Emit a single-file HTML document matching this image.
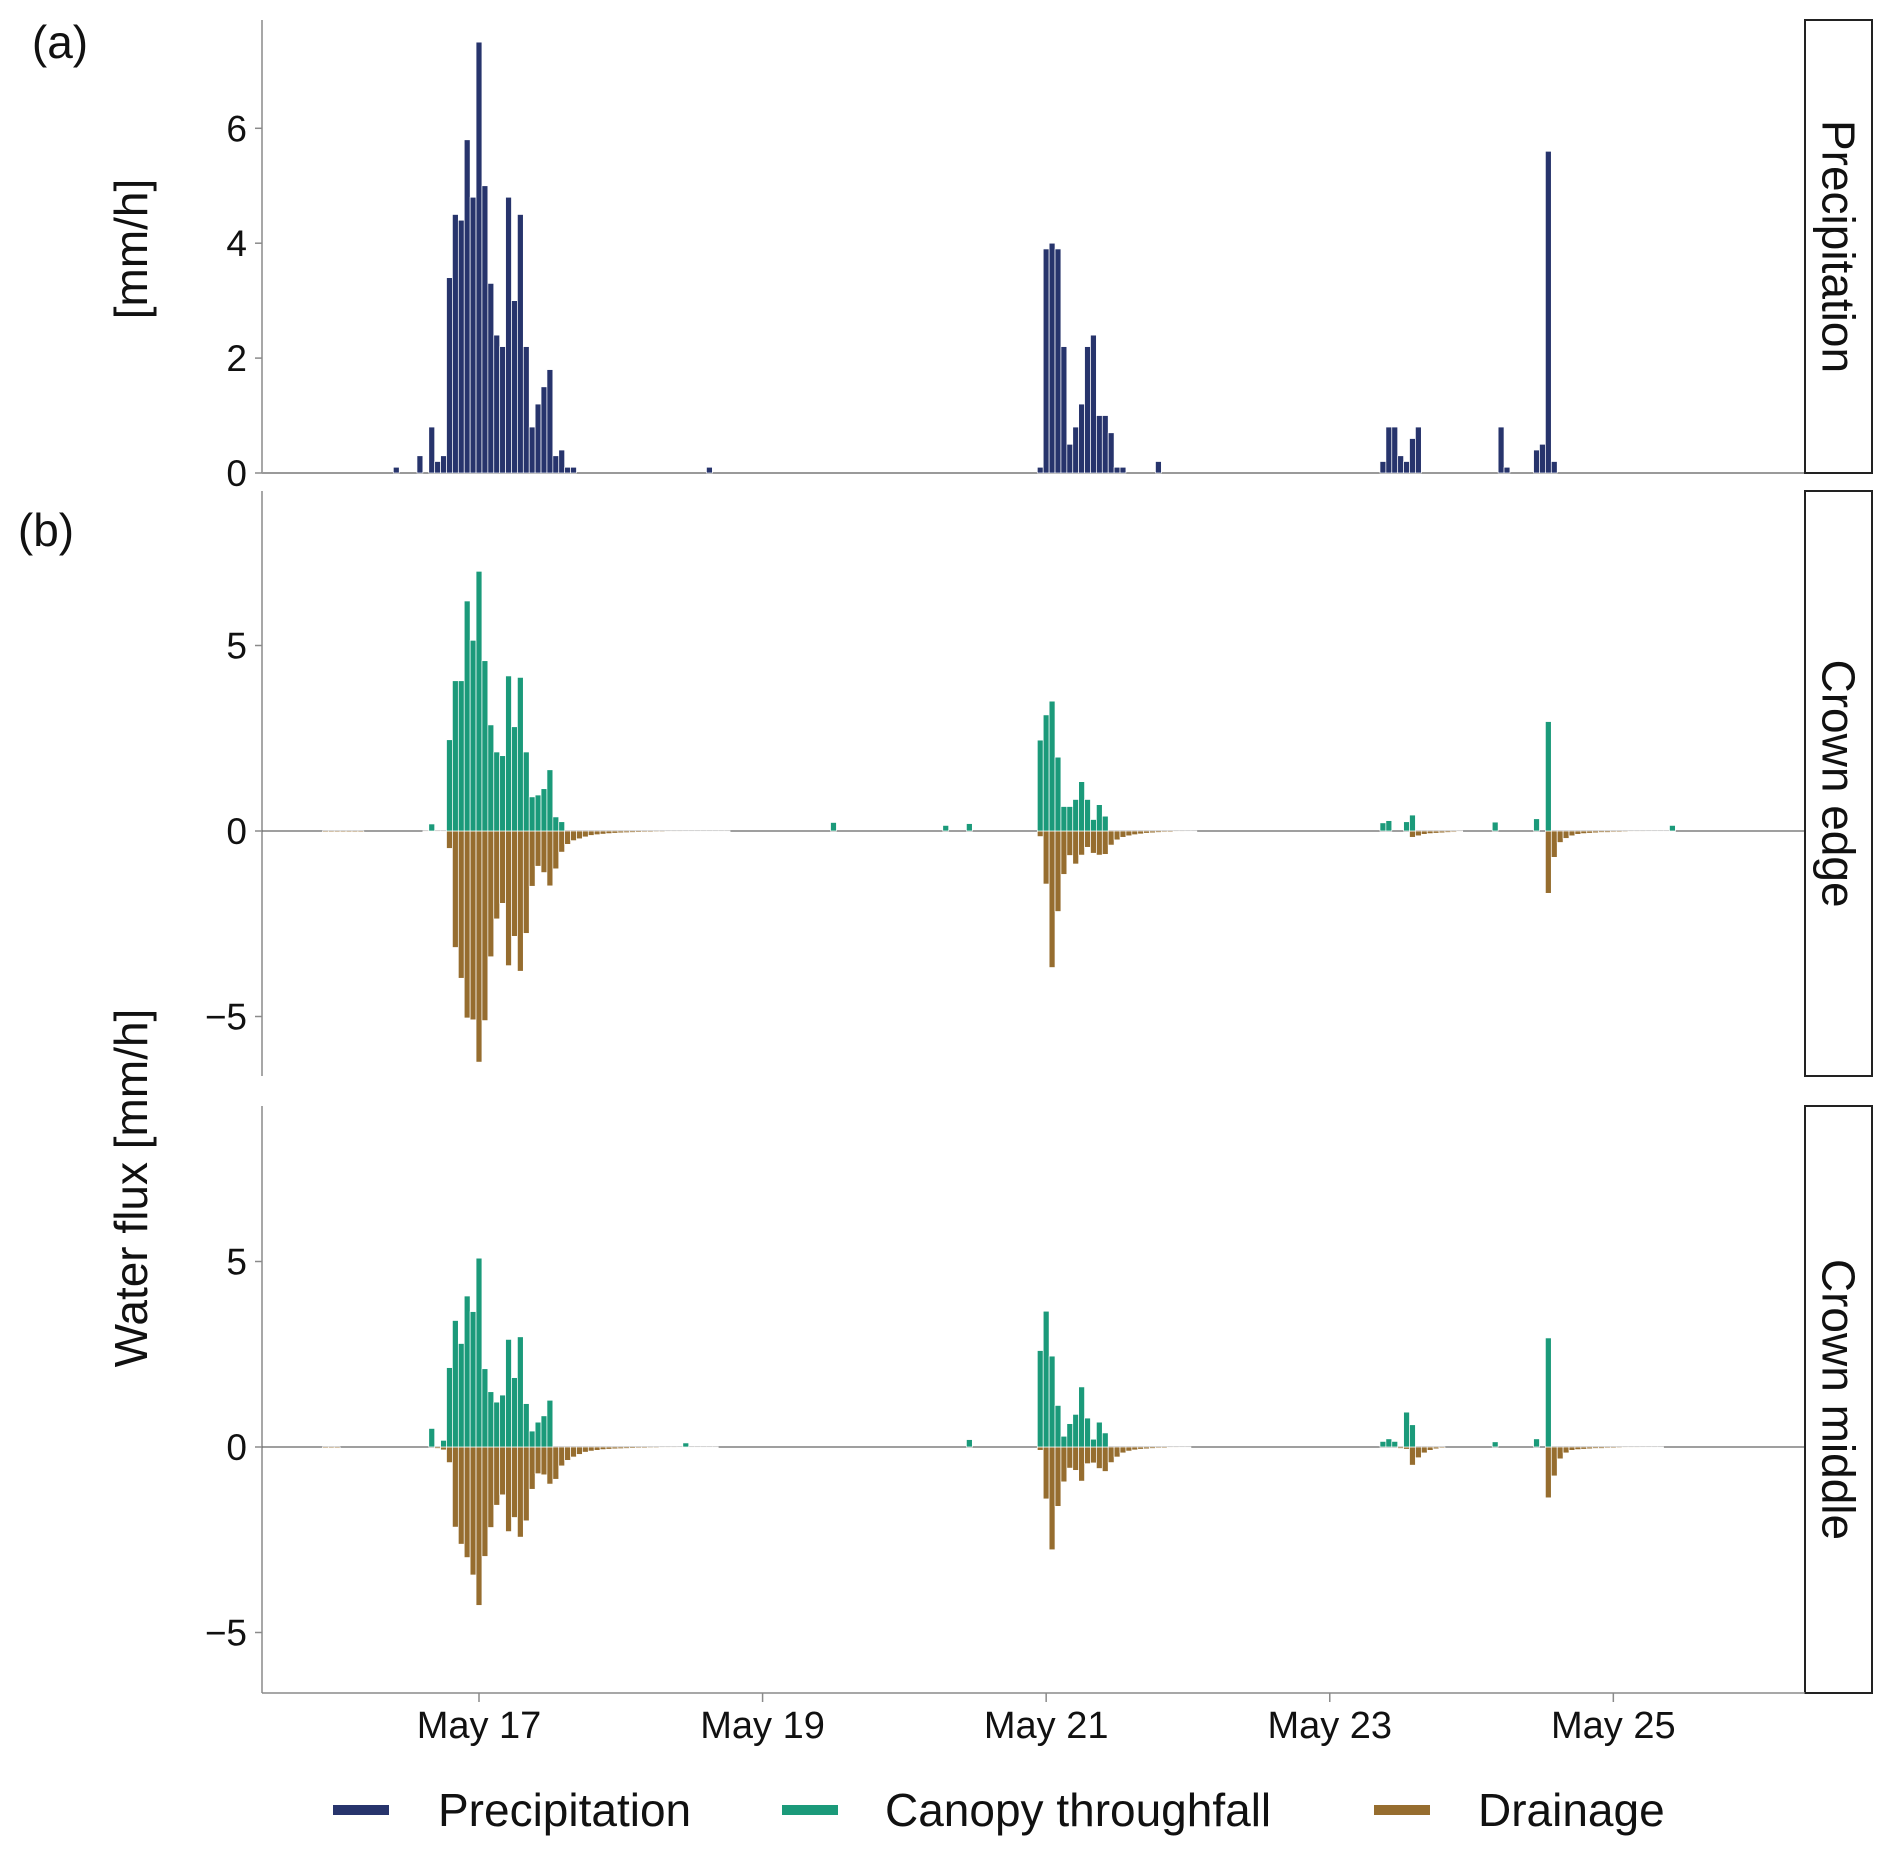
<!DOCTYPE html>
<html><head><meta charset="utf-8"><style>
html,body{margin:0;padding:0;background:#fff;}
svg{display:block;font-family:"Liberation Sans",Arial,sans-serif;}
</style></head><body>
<svg id="chart" width="1892" height="1854" viewBox="0 0 1892 1854" xmlns="http://www.w3.org/2000/svg">
<g id="static"></g>
</svg>
<script>
// ---- data (hours relative to May 17 00:00) ----
const dayTicks = ["May 17", "May 19", "May 21", "May 23", "May 25"];
const dayTickHours = [0, 48, 96, 144, 192];
const precipTickLabels = ["0", "2", "4", "6"];
const precipTickValues = [0, 2, 4, 6];
const fluxTickLabels = ["\u22125", "0", "5"];
const fluxTickValues = [-5, 0, 5];

const precipStarts = [-14, -10, -8, 39, 95, 115, 153, 173, 179];
const precipValues = [[0.1],[0.3],[0.8,0.2,0.3,3.4,4.5,4.4,5.8,4.8,7.5,5.0,3.3,2.4,2.2,4.8,3.0,4.5,2.2,0.8,1.2,1.5,1.8,0.3,0.4,0.1,0.1],[0.1],
 [0.1,3.9,4.0,3.9,2.2,0.5,0.8,1.2,2.2,2.4,1.0,1.0,0.7,0.1,0.1],[0.2],[0.2,0.8,0.8,0.3,0.2,0.6,0.8],[0.8,0.1],[0.4,0.5,5.6,0.2]];

const edgeTfStarts = [-8, -5, 60, 79, 83, 95, 153, 157, 172, 179, 181, 202];
const edgeTfValues = [[0.19],[2.46,4.05,4.05,6.2,5.14,7.0,4.59,2.86,2.13,2.03,4.18,2.81,4.14,2.13,0.92,0.97,1.14,1.65,0.38,0.25],[0.23],[0.15],[0.2],
 [2.45,3.13,3.5,1.99,0.66,0.66,0.85,1.33,0.85,0.31,0.71,0.4],[0.22,0.28],[0.25,0.43],[0.24],[0.33],[2.95],[0.15]];
const edgeDrStarts = [-26, -9, -5, 95, 158, 181];
const edgeDrValues = [[-0.03,-0.03,-0.03,-0.03,-0.03,-0.03,-0.03],[-0.02,-0.02,-0.02,-0.02],
 [-0.47,-3.14,-3.97,-5.04,-5.09,-6.23,-5.11,-3.39,-2.37,-1.95,-3.63,-2.84,-3.78,-2.76,-1.49,-0.95,-1.12,-1.48,-1.02,-0.57,
  -0.36,-0.26,-0.21,-0.16,-0.12,-0.10,-0.085,-0.07,-0.06,-0.05,-0.045,-0.04,-0.035,-0.03,-0.03,-0.025,-0.025,-0.02,-0.02,-0.02,-0.015,-0.015,-0.015,-0.01,-0.01,-0.01,-0.01,-0.01],
 [-0.15,-1.43,-3.68,-2.17,-1.17,-0.66,-0.89,-0.65,-0.44,-0.6,-0.65,-0.63,-0.38,-0.24,-0.17,-0.13,-0.1,-0.08,-0.06,-0.05,-0.04,-0.03,-0.03,-0.02,-0.02,-0.015,-0.01],
 [-0.17,-0.13,-0.09,-0.07,-0.06,-0.05,-0.04,-0.03,-0.02],
 [-1.68,-0.71,-0.31,-0.2,-0.13,-0.09,-0.07,-0.06,-0.05,-0.04,-0.04,-0.03,-0.03,-0.025,-0.02,-0.02,-0.02,-0.015,-0.015,-0.01,-0.01,-0.01]];

const midTfStarts = [-8, -6, 35, 83, 95, 153, 157, 172, 179, 181];
const midTfValues = [[0.5],[0.18,2.14,3.41,2.79,4.07,3.65,5.09,2.11,1.49,1.21,1.40,2.9,1.87,2.97,1.17,0.43,0.67,0.84,1.26],[0.11],[0.2],
 [2.6,3.66,2.45,1.12,0.29,0.63,0.88,1.62,0.78,0.21,0.67,0.38],[0.15,0.22,0.15],[0.94,0.6],[0.14],[0.22],[2.94]];
const midDrStarts = [-26, -7, 95, 156, 181];
const midDrValues = [[-0.03,-0.03,-0.03],
 [-0.04,-0.08,-0.42,-2.16,-2.62,-2.98,-3.45,-4.27,-2.95,-2.17,-1.57,-1.29,-2.28,-1.9,-2.43,-1.99,-1.14,-0.72,-0.75,-1.0,-0.87,-0.51,
  -0.36,-0.27,-0.2,-0.14,-0.11,-0.09,-0.07,-0.06,-0.05,-0.045,-0.04,-0.035,-0.03,-0.03,-0.025,-0.025,-0.02,-0.02,-0.02,-0.015,-0.015,-0.015,-0.01,-0.01,-0.01,-0.01],
 [-0.09,-1.4,-2.77,-1.6,-0.94,-0.57,-0.63,-0.92,-0.45,-0.43,-0.58,-0.66,-0.42,-0.27,-0.16,-0.11,-0.08,-0.06,-0.05,-0.04,-0.03,-0.03,-0.02,-0.02,-0.015,-0.01],
 [-0.04,-0.06,-0.49,-0.29,-0.16,-0.09,-0.05,-0.03],
 [-1.37,-0.78,-0.32,-0.16,-0.09,-0.07,-0.06,-0.05,-0.04,-0.04,-0.03,-0.03,-0.025,-0.02,-0.02,-0.02,-0.015,-0.015,-0.01,-0.01]];

// ---- layout ----
const NS = "http://www.w3.org/2000/svg";
const svg = document.getElementById("chart");
const PL = 262, PR = 1805, SX0 = 1805, SX1 = 1872;
const HOUR = 5.908, X0 = 479;
function X(h){ return X0 + h*HOUR; }
const panels = [
  {name:"precipitation", top:20, bottom:473, zero:473, unit:57.45, strip:"Precipitation", ticksV:precipTickValues, ticksL:precipTickLabels, stripTop:20},
  {name:"crown-edge", top:491, bottom:1076, zero:831, unit:37.1, strip:"Crown edge", ticksV:fluxTickValues, ticksL:fluxTickLabels, stripTop:491},
  {name:"crown-middle", top:1106, bottom:1693, zero:1447, unit:37.1, strip:"Crown middle", ticksV:fluxTickValues, ticksL:fluxTickLabels, stripTop:1106}
];
function mk(tag, attrs, parent){
  const e = document.createElementNS(NS, tag);
  for (const k in attrs) e.setAttribute(k, attrs[k]);
  (parent||svg).appendChild(e);
  return e;
}
const COL_P = "#27346c", COL_T = "#1b9a7a", COL_D = "#966d2f";

function drawBars(p, starts, vals, color, nm){
  const g = mk("g", {});
  
  
  starts.forEach((s, i) => {
    vals[i].forEach((v, j) => {
      const h = s + j;
      const y0 = p.zero, y1 = p.zero - v*p.unit;
      const r = mk("rect", {x: X(h) - HOUR/2, y: Math.min(y0,y1), width: HOUR, height: Math.max(Math.abs(y1-y0), 0.6),
        fill: color, stroke: "#fff", "stroke-width": 0.7}, g);
      
      
    });
  });
}

panels.forEach((p, idx) => {
  const ax = mk("line", {x1: PL, y1: p.top, x2: PL, y2: p.bottom, stroke: "#8a8a8a", "stroke-width": 1.5});
  
  
  p.ticksV.forEach((v, i) => {
    const y = p.zero - v*p.unit;
    const t = mk("line", {x1: PL-7, y1: y, x2: PL, y2: y, stroke: "#8a8a8a", "stroke-width": 1.5});
    
    
    const tx = mk("text", {x: PL-15, y: y+13, "text-anchor": "end", "font-size": 37, fill: "#111"});
    tx.textContent = p.ticksL[i];
    
    
  });
  const zl = mk("line", {x1: PL, y1: p.zero, x2: PR, y2: p.zero, stroke: idx===0 ? "#9a9a9a" : "#666", "stroke-width": idx===0 ? 2 : 1.3});
  
  
  const sr = mk("rect", {x: SX0, y: p.stripTop, width: SX1-SX0, height: p.bottom - p.stripTop, fill: "#fff", stroke: "#222", "stroke-width": 2});
  
  
  const cy = (p.stripTop + p.bottom)/2;
  const st = mk("text", {x: 0, y: 0, "text-anchor": "middle", "font-size": 46, fill: "#111",
    transform: "translate(" + (SX0 + (SX1-SX0)/2 - 16) + "," + cy + ") rotate(90)"});
  st.textContent = p.strip;
  
  
});

drawBars(panels[0], precipStarts, precipValues, COL_P, "precipitation");
drawBars(panels[1], edgeDrStarts, edgeDrValues, COL_D, "drainage");
drawBars(panels[1], edgeTfStarts, edgeTfValues, COL_T, "throughfall");
drawBars(panels[2], midDrStarts, midDrValues, COL_D, "drainage");
drawBars(panels[2], midTfStarts, midTfValues, COL_T, "throughfall");

const xa = mk("line", {x1: PL, y1: 1693, x2: PR, y2: 1693, stroke: "#8a8a8a", "stroke-width": 1.5});


dayTickHours.forEach((h, i) => {
  const t = mk("line", {x1: X(h), y1: 1693, x2: X(h), y2: 1702, stroke: "#8a8a8a", "stroke-width": 1.5});
  
  
  const tx = mk("text", {x: X(h), y: 1738, "text-anchor": "middle", "font-size": 38, fill: "#111"});
  tx.textContent = dayTicks[i];
  
  
});

function label(txt, x, y, size, rot, nm){
  const t = mk("text", {x: 0, y: 0, "text-anchor": "middle", "font-size": size, fill: "#111",
    transform: "translate(" + x + "," + y + ")" + (rot ? " rotate(" + rot + ")" : "")});
  t.textContent = txt;
  
  
}
label("(a)", 60, 58, 46, 0, "panel-a-label");
label("(b)", 46, 546, 46, 0, "panel-b-label");
label("[mm/h]", 147, 249, 46, -90, "precip-y-axis-title");
label("Water flux [mm/h]", 147, 1188, 46, -90, "flux-y-axis-title");

const legend = [["Precipitation", COL_P, 333, 438], ["Canopy throughfall", COL_T, 782, 885], ["Drainage", COL_D, 1374, 1478]];
legend.forEach(l => {
  const g = mk("g", {});
  
  
  mk("rect", {x: l[2], y: 1805, width: 56, height: 10, fill: l[1]}, g);
  const t = mk("text", {x: l[3], y: 1826, "font-size": 46, fill: "#111"}, g);
  t.textContent = l[0];
});
</script>
</body></html>
